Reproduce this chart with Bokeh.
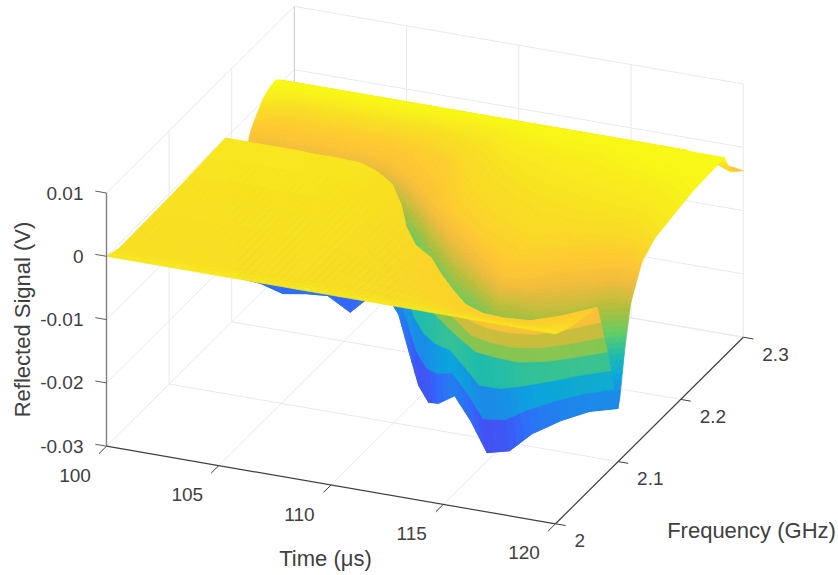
import numpy as np
from bokeh.plotting import figure
from bokeh.core.properties import value
from bokeh.embed import file_html
from bokeh.resources import INLINE

# ---- data -----------------------------------------------------------------
time_us = [100, 101, 102, 103, 104, 105, 106, 107, 108, 109, 110,
           111, 112, 113, 114, 115, 116, 117, 118, 119, 120]

# Surface lines running along time: frequency (GHz above 2) and signal (mV) per time.
f_rim    = [0]*21
z_rim    = [0]*21
f_near   = [.02]*21
z_near   = [-.7,-.7,-.7,-.7,-.7,-.7,-.7,-.7,-.7,-.7,-.7,-.8,-.9,-1,-1.1,-1.5,-1.6,-1.7,-1.7,-1.4,-1.1]
f_lobe   = [.105,.105,.105,.105,.105,.105,.105,.10,.095,.085,.07,.06,.055,.045,.035,.028,.024,.024,.026,.033,.044]
z_lobe   = [-.5,-.5,-.5,-.5,-.5,-.5,-.5,-.5,-.6,-.8,-.9,-1.1,-1.4,-1.5,-1.5,-1.7,-1.8,-1.9,-2,-1.9,-1.8]
f_edge   = [.19,.19,.19,.19,.19,.19,.19,.183,.17,.148,.12,.099,.088,.068,.05,.035,.028,.027,.031,.046,.067]
z_edge   = [0,0,0,0,-.1,-.1,-.2,-.4,-.5,-.9,-1,-1.2,-1.5,-1.5,-1.5,-1.8,-2,-2,-2.2,-2.3,-2.4]
f_drop   = [.20,.20,.20,.20,.20,.20,.20,.19,.175,.154,.13,.11,.094,.079,.065,.052,.049,.048,.055,.068,.083]
z_drop   = [-11,-11,-11,-11,-11,-11,-11,-11,-11,-11,-11,-11,-11,-11,-11,-11,-11,-11,-11,-11,-11]
f_trough = [.21,.21,.21,.21,.21,.21,.21,.20,.18,.16,.14,.12,.10,.09,.08,.07,.07,.07,.08,.09,.10]
z_trough = [-24,-24.3,-25.3,-24.7,-24.4,-26.4,-23,-22,-22,-25.1,-28,-28.1,-25.7,-22.9,-25.3,-28.7,-27.8,-24.5,-22.8,-21.7,-21.6]
f_w20    = [.214,.214,.214,.214,.214,.214,.214,.204,.185,.166,.146,.127,.108,.097,.086,.075,.075,.075,.084,.094,.103]
f_w13    = [.218,.219,.219,.219,.219,.219,.218,.208,.191,.174,.154,.136,.118,.106,.094,.081,.08,.08,.09,.10,.111]
f_w7     = [.223,.224,.224,.224,.224,.224,.223,.213,.198,.181,.162,.145,.128,.115,.101,.088,.088,.088,.098,.115,.12]
f_w35    = [.228,.23,.23,.23,.23,.23,.228,.218,.205,.19,.172,.155,.14,.125,.11,.095,.10,.115,.125,.135,.133]
f_w25    = [.232,.238,.238,.238,.238,.238,.238,.235,.22,.205,.18,.16,.147,.131,.118,.105,.115,.125,.135,.14,.137]
f_w20b   = [.235,.245,.245,.245,.245,.245,.245,.24,.235,.225,.19,.165,.15,.135,.125,.115,.125,.135,.145,.15,.14]
f_w12    = [.24,.25,.25,.25,.25,.25,.25,.25,.245,.235,.215,.19,.175,.16,.15,.14,.15,.155,.16,.16,.15]
f_w05    = [.245,.255,.255,.255,.255,.255,.255,.255,.255,.25,.24,.225,.21,.20,.19,.185,.18,.18,.18,.175,.158]
f_wp3    = [.25,.26,.26,.26,.26,.26,.26,.26,.26,.26,.26,.25,.245,.24,.235,.23,.225,.22,.215,.205,.19]
f_wp10   = [.26,.265,.265,.265,.265,.265,.265,.265,.265,.265,.265,.265,.26,.26,.26,.26,.25,.245,.24,.235,.22]
f_ridge  = [.27]*21
z_ridge  = [1.3,1.3,1.3,1.3,1.3,1.3,1.3,1.3,1.3,1.3,1.3,1.3,1.3,1.3,1.3,1.3,1.3,1.3,1.3,1.3,1.3]
f_back   = [.28]*21
z_back   = [.3,.3,.3,.3,.3,.3,.3,.3,.3,.3,.3,.3,.3,.3,.3,.3,.3,.3,.3,-.5,-1.9]
f_far    = [.30]*21
z_far    = [-3,-3,-3,-3,-3,-3,-3,-3,-3,-3,-3,-3,-3,-3,-3,-3,-3,-3,-3,-3.2,-3.7]
z_w20    = [-20]*21
z_w13    = [-13]*21
z_w7     = [-7]*21
z_w35    = [-3.5]*21
z_w25    = [-2.5]*21
z_w20b   = [-2]*21
z_w12    = [-1.2]*21
z_w05    = [-.5]*21
z_wp3    = [.3]*21
z_wp10   = [1.0]*21

f_lines = [f_rim, f_near, f_lobe, f_edge, f_drop, f_trough, f_w20, f_w13, f_w7, f_w35,
           f_w25, f_w20b, f_w12, f_w05, f_wp3, f_wp10, f_ridge, f_back, f_far]
z_lines = [z_rim, z_near, z_lobe, z_edge, z_drop, z_trough, z_w20, z_w13, z_w7, z_w35,
           z_w25, z_w20b, z_w12, z_w05, z_wp3, z_wp10, z_ridge, z_back, z_far]

time_ticks = [100, 105, 110, 115, 120]
freq_ticks = [2.0, 2.1, 2.2, 2.3]
freq_labels = ["2", "2.1", "2.2", "2.3"]
z_ticks = [0.01, 0, -0.01, -0.02, -0.03]
z_labels = ["0.01", "0", "-0.01", "-0.02", "-0.03"]

# ---- view of the box ------------------------------------------------------
T0, T1, F0, F1, Z0, Z1 = 100.0, 120.0, 2.0, 2.3, -0.03, 0.01
OX, OY = 106.0, 445.7      # t=100, f=2, z=-0.03
TX, TY = 22.45, 3.88       # per microsecond
FX, FY = 626.0, -622.0     # per GHz
ZY = -6330.0               # per volt


def project(t, f, z):
    t, f, z = np.asarray(t, float), np.asarray(f, float), np.asarray(z, float)
    return (OX + TX * (t - T0) + FX * (f - F0),
            OY + TY * (t - T0) + FY * (f - F0) + ZY * (z - Z0))


# parula colour scale
C_POS = [0.0, 0.05, 0.1, 0.2, 0.3, 0.4, 0.5, 0.6, 0.7, 0.8, 0.87, 0.93, 1.0]
C_R = [62, 68, 72, 50, 30, 12, 30, 100, 175, 240, 255, 248, 249]
C_G = [38, 50, 75, 105, 135, 165, 188, 205, 190, 188, 200, 222, 251]
C_B = [168, 205, 240, 252, 235, 220, 175, 100, 60, 60, 50, 35, 20]
C_MIN, C_MAX = -0.0295, 0.0014


def parula(z):
    u = np.clip((z - C_MIN) / (C_MAX - C_MIN), 0, 1)
    r = np.interp(u, C_POS, C_R)
    g = np.interp(u, C_POS, C_G)
    b = np.interp(u, C_POS, C_B)
    return "#%02x%02x%02x" % (int(r), int(g), int(b))


T = np.array(time_us, float)
FF = np.array(f_lines, float) + 2.0       # [line, time]
ZZ = np.array(z_lines, float) / 1000.0

# shaded surface, drawn from the far corner to the near one
SUB_T = 3
xs, ys, cols = [], [], []
for k in range(FF.shape[0] - 2, -1, -1):
    SUB_K = 8 if 5 <= k <= 8 else 3
    for i in range(len(T) - 1):
        for sk in range(SUB_K - 1, -1, -1):
            for st in range(SUB_T):
                a0, a1 = st / SUB_T, (st + 1) / SUB_T
                b0, b1 = sk / SUB_K, (sk + 1) / SUB_K
                aa = np.array([a0, a1, a1, a0])
                bb = np.array([b0, b0, b1, b1])
                w00, w10, w01, w11 = (1 - aa) * (1 - bb), aa * (1 - bb), (1 - aa) * bb, aa * bb
                zz = ZZ[k, i] * w00 + ZZ[k, i + 1] * w10 + ZZ[k + 1, i] * w01 + ZZ[k + 1, i + 1] * w11
                ff = FF[k, i] * w00 + FF[k, i + 1] * w10 + FF[k + 1, i] * w01 + FF[k + 1, i + 1] * w11
                tt = T[i] + aa * (T[i + 1] - T[i])
                px, py = project(tt, ff, zz)
                xs.append(px.tolist())
                ys.append(py.tolist())
                cols.append(parula(zz.mean()))

p = figure(width=838, height=575, x_range=(0, 838), y_range=(575, 0),
           output_backend="svg", toolbar_location=None, min_border=0)
p.xaxis.visible = False
p.yaxis.visible = False
p.grid.visible = False
p.outline_line_color = None
p.background_fill_color = "white"


def seg(t0, f0, z0, t1, f1, z1, color, width=1.0):
    x0, y0 = project(t0, f0, z0)
    x1, y1 = project(t1, f1, z1)
    p.line([float(x0), float(x1)], [float(y0), float(y1)], line_color=color, line_width=width)


GRID = "#e9e9ec"
for t in time_ticks[1:]:
    seg(t, F0, Z0, t, F1, Z0, GRID)
for f in freq_ticks[1:]:
    seg(T0, f, Z0, T1, f, Z0, GRID)
for f in freq_ticks[1:-1]:
    seg(T0, f, Z0, T0, f, Z1, GRID)
for z in z_ticks:
    seg(T0, F0, z, T0, F1, z, GRID)
for t in time_ticks[1:]:
    seg(t, F1, Z0, t, F1, Z1, GRID)
for z in z_ticks:
    seg(T0, F1, z, T1, F1, z, GRID)
seg(T0, F1, Z0, T0, F1, Z1, "#c9c9cc")

p.patches(xs=xs, ys=ys, fill_color=cols, line_color=cols, line_width=0.7)

AXIS = "#404040"
seg(T0, F0, Z0, T1, F0, Z0, AXIS, 1.2)
seg(T1, F0, Z0, T1, F1, Z0, AXIS, 1.2)
seg(T0, F0, Z0, T0, F0, Z1, "#808080", 1.4)

for t in time_ticks:
    seg(t, F0, Z0, t, F0 - 0.012, Z0, AXIS)
for f in freq_ticks:
    seg(T1, f, Z0, T1 + 0.45, f, Z0, AXIS)
for z in z_ticks:
    seg(T0, F0, z, T0 - 0.5, F0, z, "#606060")

FONT = value("Liberation Sans")
TICK = "19px"
LABEL = "22px"
TXT = "#404040"

x, y = project(time_ticks, F0, Z0)
p.text(x=(x - 31.5).tolist(), y=(y + 29).tolist(), text=[str(t) for t in time_ticks],
       text_font=FONT, text_font_size=TICK, text_color=TXT, text_align="center", text_baseline="middle")
x, y = project(T1, freq_ticks, Z0)
p.text(x=(x + 19).tolist(), y=(y + 17).tolist(), text=freq_labels,
       text_font=FONT, text_font_size=TICK, text_color=TXT, text_align="left", text_baseline="middle")
x, y = project(T0, F0, z_ticks)
p.text(x=(x - 23).tolist(), y=y.tolist(), text=z_labels,
       text_font=FONT, text_font_size=TICK, text_color=TXT, text_align="right", text_baseline="middle")

p.text(x=[22], y=[319], text=["Reflected Signal (V)"], angle=[np.pi / 2],
       text_font=FONT, text_font_size=LABEL, text_color=TXT, text_align="center", text_baseline="middle")
p.text(x=[325], y=[558], text=["Time (\u03bcs)"],
       text_font=FONT, text_font_size=LABEL, text_color=TXT, text_align="center", text_baseline="middle")
p.text(x=[751], y=[530], text=["Frequency (GHz)"],
       text_font=FONT, text_font_size=LABEL, text_color=TXT, text_align="center", text_baseline="middle")

open("out.html", "w").write(file_html(p, INLINE))
